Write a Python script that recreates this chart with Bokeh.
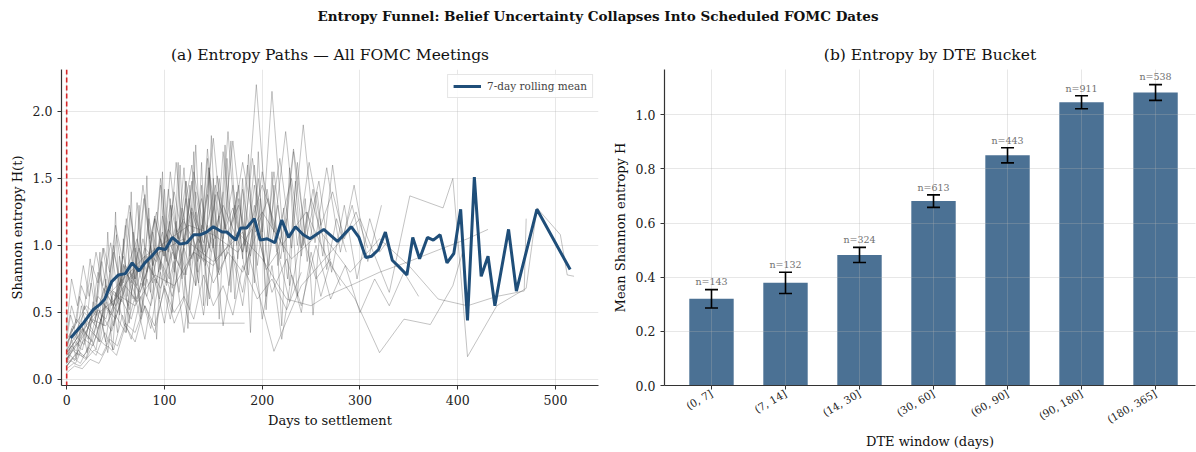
import math
from bokeh.plotting import figure
from bokeh.models import (Range1d, Span, Legend, LegendItem, Whisker, ColumnDataSource,
                          FixedTicker, Div, TeeHead, NumeralTickFormatter)
from bokeh.layouts import column, row
from bokeh.embed import file_html
from bokeh.resources import INLINE
from bokeh.core.properties import value

FONT = "DejaVu Serif"

# ---------------- data: panel (a) ----------------
rm_days = [4, 17, 27, 34, 39, 46, 53, 60, 67, 74, 80, 87, 94, 101, 108, 116, 123, 130, 137, 143,
           150, 159, 164, 173, 178, 184, 192, 198, 205, 213, 220, 227, 234, 242, 249, 263, 277, 291,
           299, 306, 312, 319, 326, 333, 340, 348, 354, 361, 369, 375, 382, 389, 396, 403, 410, 417,
           424, 431, 438, 452, 460, 481, 515]
rm_vals = [0.31, 0.42, 0.52, 0.56, 0.60, 0.73, 0.78, 0.79, 0.87, 0.81, 0.87, 0.92, 0.98, 0.97, 1.06,
           1.01, 1.02, 1.08, 1.08, 1.10, 1.14, 1.10, 1.10, 1.04, 1.13, 1.13, 1.20, 1.04, 1.05, 1.02,
           1.19, 1.06, 1.14, 1.08, 1.05, 1.12, 1.03, 1.14, 1.06, 0.91, 0.92, 0.97, 1.10, 0.89, 0.84,
           0.78, 1.06, 0.90, 1.06, 1.04, 1.08, 0.87, 0.94, 1.27, 0.44, 1.51, 0.77, 0.92, 0.55, 1.12,
           0.66, 1.27, 0.82]

p01_d = [0, 5, 10, 16, 22, 28, 35, 42, 50, 58, 66, 74, 82, 90, 98, 106, 114, 122, 130, 138, 146, 154, 162, 170, 178]
p01_h = [0.18, 0.25, 0.21, 0.38, 0.30, 0.52, 0.44, 0.68, 0.55, 0.86, 0.72, 0.98, 0.80, 1.22, 0.95, 1.30, 1.05, 1.48, 1.10, 1.35, 0.98, 1.52, 1.12, 1.28, 1.05]
p02_d = [0, 4, 9, 14, 20, 27, 34, 41, 48, 56, 64, 72, 80, 88, 96, 104, 112, 120, 128, 136, 144, 152, 160, 168, 176, 184, 192, 200]
p02_h = [0.10, 0.14, 0.12, 0.20, 0.16, 0.35, 0.28, 0.58, 0.40, 0.75, 0.52, 0.95, 0.70, 1.10, 0.82, 1.42, 0.90, 1.25, 1.60, 1.02, 1.38, 0.88, 1.70, 1.15, 1.45, 0.95, 1.30, 1.05]
p03_d = [0, 6, 12, 18, 25, 32, 40, 48, 56, 64, 72, 80, 90, 100, 110, 120, 130, 140, 150, 160, 170, 180, 190, 200, 210, 220, 230, 240, 250, 260]
p03_h = [0.22, 0.40, 0.30, 0.55, 0.45, 0.80, 0.62, 0.95, 0.70, 0.88, 1.05, 0.75, 1.20, 0.92, 1.40, 1.00, 1.55, 1.12, 1.80, 1.05, 1.45, 0.95, 1.65, 1.10, 2.15, 1.20, 1.50, 0.98, 1.35, 1.10]
p04_d = [0, 7, 14, 21, 28, 36, 44, 52, 60, 70, 80, 90, 100, 110, 120, 130, 140, 150, 160, 170, 180, 195, 210, 225, 240]
p04_h = [0.08, 0.12, 0.10, 0.16, 0.22, 0.18, 0.30, 0.25, 0.42, 0.35, 0.55, 0.40, 0.68, 0.50, 0.62, 0.45, 0.78, 0.55, 0.70, 0.48, 0.85, 0.60, 0.75, 0.52, 0.80]
p05_d = [0, 5, 10, 15, 20, 26, 32, 38, 44, 50, 57, 64, 71, 78, 85, 92, 99, 106, 113, 120]
p05_h = [0.35, 0.55, 0.42, 0.70, 0.60, 0.85, 0.72, 0.98, 0.80, 1.15, 0.90, 1.30, 0.95, 1.45, 1.05, 1.25, 0.92, 1.55, 1.10, 1.20]
p06_d = [0, 8, 16, 24, 32, 42, 52, 62, 72, 82, 92, 102, 115, 128, 141, 154, 167, 180, 193, 206, 219, 232, 245, 258, 271, 284, 297, 310, 320, 330]
p06_h = [0.15, 0.28, 0.22, 0.45, 0.38, 0.62, 0.50, 0.78, 0.60, 0.92, 0.72, 1.08, 0.85, 1.25, 0.95, 1.40, 1.02, 1.62, 1.10, 1.35, 0.90, 1.72, 1.05, 1.48, 0.80, 1.30, 0.75, 1.20, 0.95, 1.05]
p07_d = [0, 9, 18, 27, 36, 46, 56, 66, 76, 86, 96, 108, 120, 132, 144, 156, 168, 180, 192, 204, 216, 228, 240, 255, 270]
p07_h = [0.12, 0.18, 0.30, 0.25, 0.48, 0.36, 0.60, 0.45, 0.72, 0.55, 0.88, 0.62, 0.98, 0.70, 1.15, 0.78, 1.02, 0.65, 1.20, 0.82, 0.95, 0.58, 1.10, 0.75, 0.90]
p08_d = [0, 12, 25, 40, 55, 70, 90, 110, 130, 150, 175, 200, 225, 250, 265, 290, 320, 350, 385, 410, 431]
p08_h = [0.20, 0.32, 0.45, 0.40, 0.62, 0.55, 0.78, 0.70, 0.95, 0.85, 1.10, 0.90, 0.60, 0.55, 0.62, 0.70, 0.80, 0.88, 0.98, 1.05, 1.12]
p09_d = [0, 10, 20, 32, 45, 60, 75, 90, 105, 120, 140, 160, 180, 200, 220, 245, 270, 295, 320, 345, 372, 395, 405]
p09_h = [0.25, 0.45, 0.35, 0.62, 0.50, 0.80, 0.65, 0.98, 0.75, 1.18, 0.88, 1.30, 0.95, 1.45, 1.00, 1.25, 0.85, 0.60, 0.20, 0.45, 0.41, 0.70, 0.95]
p10_d = [0, 15, 30, 50, 70, 95, 120, 150, 180, 212, 240, 270, 300, 330, 351, 385, 395, 410, 440, 470, 481, 505, 512, 519]
p10_h = [0.18, 0.30, 0.48, 0.60, 0.82, 0.95, 1.05, 0.88, 1.10, 0.21, 0.70, 0.95, 1.20, 0.65, 1.37, 1.28, 1.50, 0.17, 0.55, 0.68, 1.28, 1.08, 0.78, 0.77]
p11_d = [0, 4, 8, 13, 18, 24, 30, 37, 44, 51, 58, 65, 72, 80, 88, 96, 104, 112, 120, 128, 136, 144, 152, 160]
p11_h = [0.30, 0.48, 0.38, 0.62, 0.52, 0.90, 0.58, 0.98, 0.66, 1.08, 0.72, 1.25, 0.80, 1.38, 0.85, 1.50, 0.95, 1.62, 1.00, 1.48, 0.90, 1.72, 1.05, 1.40]
p12_d = [0, 6, 12, 19, 26, 34, 42, 50, 59, 68, 77, 86, 95, 105, 115, 125, 135, 145, 155, 165, 175, 185, 195, 205, 215, 225]
p12_h = [0.14, 0.22, 0.18, 0.35, 0.28, 0.52, 0.20, 0.65, 0.40, 0.82, 0.50, 1.00, 0.60, 1.18, 0.65, 1.35, 0.72, 1.58, 0.80, 1.85, 0.90, 1.60, 0.85, 1.42, 0.95, 1.20]
p13_d = [0, 5, 11, 17, 23, 30, 37, 45, 53, 61, 70, 79, 88, 98, 108, 118, 128, 138, 148]
p13_h = [0.40, 0.75, 0.55, 0.85, 0.62, 0.95, 0.70, 1.02, 0.60, 1.20, 0.75, 1.35, 0.85, 1.10, 0.68, 1.28, 0.90, 1.15, 0.95]
p14_d = [0, 7, 14, 22, 30, 39, 48, 57, 66, 76, 86, 96, 106, 116, 126, 136, 146, 156, 166, 176, 186, 196, 206, 216, 226, 236, 246, 256, 266, 276, 286]
p14_h = [0.10, 0.16, 0.12, 0.24, 0.18, 0.35, 0.22, 0.48, 0.30, 0.62, 0.38, 0.80, 0.45, 0.95, 0.52, 1.10, 0.60, 1.22, 0.70, 1.35, 0.78, 1.50, 0.85, 1.30, 0.75, 1.62, 0.88, 1.40, 0.82, 1.20, 0.95]
p15_d = [0, 9, 18, 28, 38, 48, 58, 68, 78, 88, 98, 110, 122, 134, 146, 158, 170, 182, 194, 206, 218, 230, 242, 254, 266, 280, 294, 308, 322]
p15_h = [0.28, 0.35, 0.50, 0.42, 0.68, 0.55, 0.92, 0.60, 1.05, 0.72, 1.22, 0.80, 1.35, 0.88, 1.55, 0.92, 1.78, 1.00, 2.20, 1.05, 1.65, 0.98, 1.90, 1.02, 1.58, 0.95, 1.45, 0.88, 1.30]
p16_d = [0, 8, 16, 24, 33, 42, 51, 60, 70, 80, 90, 100, 110, 120, 125, 182]
p16_h = [0.05, 0.10, 0.08, 0.15, 0.12, 0.25, 0.18, 0.40, 0.28, 0.55, 0.35, 0.70, 0.42, 0.60, 0.42, 0.42]
p17_d = [0, 6, 13, 20, 28, 36, 45, 54, 63, 72, 82, 92, 102, 112, 122, 132, 142, 152, 162, 172, 182, 192, 202, 212, 222, 232, 242, 252, 262, 272, 282, 292, 302]
p17_h = [0.20, 0.32, 0.25, 0.45, 0.35, 0.58, 0.48, 0.72, 0.55, 0.85, 0.62, 0.98, 0.70, 1.12, 0.78, 1.25, 0.85, 1.38, 0.90, 1.30, 0.82, 1.45, 0.88, 1.55, 0.95, 1.70, 1.00, 1.42, 0.92, 1.60, 1.05, 1.30, 0.98]
p18_d = [0, 10, 20, 30, 40, 50, 60, 72, 84, 96, 108, 120, 135, 150, 165, 180, 195, 210, 225, 240, 255, 270, 285, 300, 315, 330, 345, 360]
p18_h = [0.15, 0.25, 0.40, 0.32, 0.55, 0.45, 0.70, 0.58, 0.85, 0.68, 0.95, 0.78, 1.05, 0.72, 0.95, 0.80, 1.10, 0.65, 0.90, 0.55, 1.00, 0.60, 0.85, 0.50, 0.75, 0.55, 0.80, 0.62]
p19_d = [0, 5, 10, 15, 21, 27, 33, 40, 47, 54, 61, 68, 76, 84, 92, 100, 108, 116, 124, 132, 140, 148, 156, 164, 172, 180, 188, 196, 204, 212, 220, 228, 236, 244, 252, 260]
p19_h = [0.12, 0.30, 0.15, 0.42, 0.20, 0.58, 0.28, 0.75, 0.22, 0.92, 0.35, 1.10, 0.45, 1.28, 0.30, 1.42, 0.50, 1.60, 0.38, 1.75, 0.55, 1.82, 0.45, 1.65, 0.60, 1.50, 0.35, 1.70, 0.52, 1.45, 0.40, 1.58, 0.62, 1.35, 0.48, 1.20]
p20_d = [0, 14, 28, 45, 62, 80, 100, 125, 150, 175, 200, 230, 260, 290, 320, 350, 380, 410, 440, 468, 470]
p20_h = [0.22, 0.38, 0.52, 0.65, 0.78, 0.92, 1.02, 1.15, 1.08, 0.95, 1.25, 0.90, 1.10, 0.80, 1.05, 0.85, 0.60, 0.55, 0.62, 0.66, 1.20]
p21_d = [0, 6, 12, 18, 24, 30, 34, 38, 42, 46, 50, 54, 58, 62, 66, 70, 74, 78, 82, 86, 90, 94, 98, 102, 106, 110, 114, 118, 122, 126, 130, 134, 138, 142, 146, 150]
p21_h = [0.15, 0.22, 0.30, 0.26, 0.45, 0.50, 0.95, 0.40, 1.10, 0.55, 1.25, 0.48, 1.05, 0.62, 1.40, 0.58, 1.30, 0.70, 1.52, 0.65, 1.20, 0.80, 1.55, 0.72, 1.35, 0.90, 1.62, 0.75, 1.48, 0.85, 1.70, 0.80, 1.45, 0.92, 1.58, 1.00]
p22_d = [0, 8, 16, 24, 32, 40, 48, 56, 64, 72, 80, 88, 96, 104, 112, 120, 126, 132, 138, 144, 150, 156, 162, 168, 174, 180, 186, 192, 198, 204, 210, 216, 222, 228, 234, 240, 246, 252]
p22_h = [0.20, 0.28, 0.38, 0.30, 0.52, 0.45, 0.66, 0.58, 0.80, 0.70, 0.92, 0.78, 1.05, 0.85, 1.18, 0.60, 1.45, 0.70, 1.62, 0.55, 1.50, 0.82, 1.75, 0.65, 1.40, 0.90, 1.68, 0.72, 1.35, 0.62, 1.55, 0.85, 1.28, 0.70, 1.48, 0.92, 1.25, 1.05]
p23_d = [0, 10, 20, 30, 40, 50, 60, 70, 80, 90, 100, 110, 120, 130, 140, 150, 160, 170, 180, 190, 200, 210, 220, 230, 240, 250, 260, 270, 280]
p23_h = [0.10, 0.20, 0.15, 0.32, 0.25, 0.48, 0.35, 0.62, 0.30, 0.75, 0.42, 0.88, 0.35, 0.95, 0.48, 1.05, 0.40, 0.92, 0.55, 1.12, 0.45, 0.85, 0.30, 0.78, 0.50, 0.95, 0.62, 0.88, 0.70]
p24_d = [0, 5, 10, 15, 20, 25, 30, 36, 42, 48, 54, 60, 66, 72, 78, 84, 90, 96, 102, 108, 114, 120, 126, 132, 138, 144, 150, 156, 162, 168, 174, 180, 186, 192, 198]
p24_h = [0.25, 0.38, 0.30, 0.55, 0.40, 0.72, 0.50, 0.88, 0.62, 1.00, 0.70, 1.15, 0.75, 1.32, 0.82, 1.20, 0.95, 1.45, 0.88, 1.30, 1.05, 1.58, 0.92, 1.40, 1.10, 1.65, 0.98, 1.50, 1.12, 1.78, 1.00, 1.42, 1.15, 1.60, 1.08]
p25_d = [0, 4, 8, 12, 16, 20, 25, 30, 35, 40, 46, 52, 58, 64, 70, 76, 82, 88]
p25_h = [0.12, 0.18, 0.14, 0.22, 0.17, 0.20, 0.30, 0.22, 0.45, 0.28, 0.62, 0.35, 0.85, 0.42, 0.98, 0.50, 0.75, 0.60]
p26_d = [0, 10, 20, 30, 40, 50, 60, 70, 80, 92, 104, 116, 128, 140, 152, 164, 176, 188, 200, 212, 224, 236, 248, 260, 272, 284, 296, 308]
p26_h = [0.30, 0.42, 0.55, 0.48, 0.70, 0.62, 0.85, 0.75, 0.98, 0.88, 1.12, 0.95, 1.28, 1.02, 1.45, 1.08, 1.30, 0.92, 1.55, 1.10, 1.85, 1.00, 1.62, 1.15, 1.40, 1.05, 1.25, 0.98]

paths = [(p01_d, p01_h), (p02_d, p02_h), (p03_d, p03_h), (p04_d, p04_h), (p05_d, p05_h),
         (p06_d, p06_h), (p07_d, p07_h), (p08_d, p08_h), (p09_d, p09_h), (p10_d, p10_h),
         (p11_d, p11_h), (p12_d, p12_h), (p13_d, p13_h), (p14_d, p14_h), (p15_d, p15_h),
         (p16_d, p16_h), (p17_d, p17_h), (p18_d, p18_h), (p19_d, p19_h), (p20_d, p20_h),
         (p21_d, p21_h), (p22_d, p22_h), (p23_d, p23_h), (p24_d, p24_h), (p25_d, p25_h),
         (p26_d, p26_h)]

# ---------------- data: panel (b) ----------------
buckets = ["(0, 7]", "(7, 14]", "(14, 30]", "(30, 60]", "(60, 90]", "(90, 180]", "(180, 365]"]
bucket_mean = [0.320, 0.379, 0.482, 0.681, 0.850, 1.046, 1.082]
bucket_err = [0.034, 0.039, 0.028, 0.023, 0.028, 0.024, 0.029]
bucket_n = [143, 132, 324, 613, 443, 911, 538]

# ---------------- styling helpers ----------------
def style_axes(p):
    for ax in (p.xaxis[0], p.yaxis[0]):
        ax.axis_line_color = "#333333"
        ax.axis_line_width = 1.2
        ax.major_tick_line_color = "#333333"
        ax.major_tick_in = 0
        ax.major_tick_out = 4
        ax.minor_tick_line_color = None
        ax.major_label_text_font = FONT
        ax.major_label_text_font_size = "12.5px"
        ax.major_label_text_color = "#222222"
        ax.axis_label_text_font = FONT
        ax.axis_label_text_font_size = "13px"
        ax.axis_label_text_font_style = "normal"
        ax.axis_label_text_color = "#111111"
    p.outline_line_color = None
    p.grid.grid_line_color = "#b0b0b0"
    p.grid.grid_line_alpha = 0.3
    p.grid.grid_line_width = 1
    p.title.text_font = FONT
    p.title.text_font_size = "15.5px"
    p.title.text_font_style = "normal"
    p.title.align = "center"
    p.title.text_color = "#111111"
    p.title.standoff = 12

FIG_H = 418

# ---------------- panel (a) ----------------
p1 = figure(width=600, height=FIG_H, x_range=Range1d(-5.3, 544), y_range=Range1d(-0.045, 2.313),
            output_backend="svg", toolbar_location=None,
            min_border_left=61, min_border_right=2, min_border_top=34, min_border_bottom=68,
            title="(a) Entropy Paths \u2014 All FOMC Meetings")
style_axes(p1)
p1.xaxis.ticker = FixedTicker(ticks=[0, 100, 200, 300, 400, 500])
p1.yaxis.ticker = FixedTicker(ticks=[0, 0.5, 1.0, 1.5, 2.0])
p1.yaxis.formatter = NumeralTickFormatter(format="0.0")
p1.xaxis.axis_label = "Days to settlement"
p1.yaxis.axis_label = "Shannon entropy H(t)"

for d, h in paths:
    n = min(len(d), len(h))
    p1.line(d[:n], h[:n], line_color="#4a4a4a", line_alpha=0.42, line_width=0.8)

p1.add_layout(Span(location=0, dimension="height", line_color="#d62728",
                   line_dash="5 3", line_width=1.6, level="overlay"))

mean_r = p1.line(rm_days, rm_vals, line_color="#1f4e79", line_width=3)

legend = Legend(items=[LegendItem(label="7-day rolling mean", renderers=[mean_r])],
                location="top_right")
legend.label_text_font = FONT
legend.label_text_font_size = "10.5px"
legend.border_line_color = "#cccccc"
legend.border_line_width = 1
legend.background_fill_alpha = 0.85
legend.glyph_width = 28
legend.glyph_height = 12
legend.padding = 5
legend.spacing = 0
legend.margin = 5
legend.label_standoff = 6
legend.label_height = 12
p1.add_layout(legend)

# ---------------- panel (b) ----------------
idx = list(range(len(buckets)))
upper = [m + e for m, e in zip(bucket_mean, bucket_err)]
lower = [m - e for m, e in zip(bucket_mean, bucket_err)]
src = ColumnDataSource(dict(x=idx, top=bucket_mean, upper=upper, lower=lower,
                            label_y=[u + 0.008 for u in upper],
                            label=["n=%d" % n for n in bucket_n]))

p2 = figure(width=596, height=FIG_H, x_range=Range1d(-0.635, 6.54), y_range=Range1d(0, 1.167),
            output_backend="svg", toolbar_location=None,
            min_border_left=64, min_border_right=1, min_border_top=34, min_border_bottom=68,
            title="(b) Entropy by DTE Bucket")
style_axes(p2)
p2.grid.level = "overlay"
p2.xaxis.ticker = FixedTicker(ticks=idx)
p2.xaxis.major_label_overrides = {i: b for i, b in zip(idx, buckets)}
p2.xaxis.major_label_orientation = math.pi / 6
p2.xaxis.major_label_text_font_size = "10.5px"
p2.xaxis.major_label_standoff = 3
p2.xaxis.axis_label_standoff = 1
p2.yaxis.ticker = FixedTicker(ticks=[0, 0.2, 0.4, 0.6, 0.8, 1.0])
p2.yaxis.formatter = NumeralTickFormatter(format="0.0")
p2.xaxis.axis_label = "DTE window (days)"
p2.yaxis.axis_label = "Mean Shannon entropy H"

p2.vbar(x="x", top="top", width=0.6, source=src, fill_color="#4b7194", line_color=None)
wh = Whisker(source=src, base="x", upper="upper", lower="lower",
             line_color="black", line_width=1.6, level="overlay",
             upper_head=TeeHead(size=13, line_width=1.6, line_color="black"),
             lower_head=TeeHead(size=13, line_width=1.6, line_color="black"))
p2.add_layout(wh)
p2.text(x="x", y="label_y", text="label", source=src, text_align="center",
        text_baseline="bottom", text_font=value(FONT), text_font_size="9.5px",
        text_color="#707070")

title = Div(text="Entropy Funnel: Belief Uncertainty Collapses Into Scheduled FOMC Dates",
            width=1196, height=28, margin=(7, 0, 0, 0),
            styles={"font-family": FONT, "font-weight": "bold", "font-size": "13.5px",
                    "text-align": "center", "width": "1196px", "color": "#111111"})

layout = column(title, row(p1, p2, spacing=0), spacing=0)
open("out.html", "w").write(file_html(layout, INLINE))
